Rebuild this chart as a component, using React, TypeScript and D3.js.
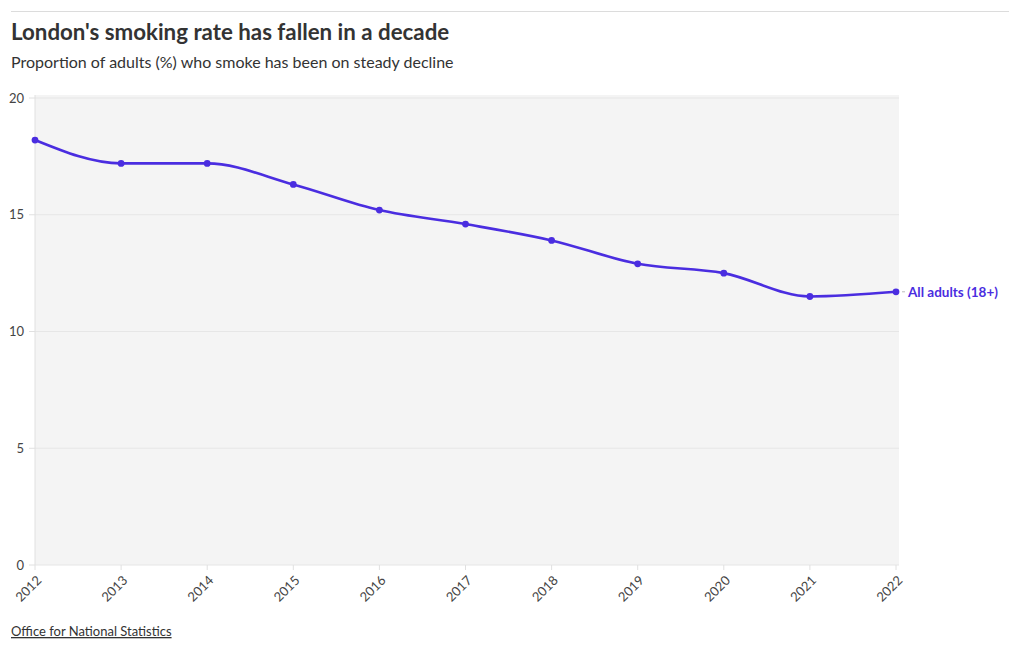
import React from "react";
import * as d3 from "d3";

const years = [2012, 2013, 2014, 2015, 2016, 2017, 2018, 2019, 2020, 2021, 2022];
const smokingRate = [18.2, 17.2, 17.2, 16.3, 15.2, 14.6, 13.9, 12.9, 12.5, 11.5, 11.7];
const yTicks = [0, 5, 10, 15, 20];
const seriesName = "All adults (18+)";
const title = "London's smoking rate has fallen in a decade";
const subtitle = "Proportion of adults (%) who smoke has been on steady decline";
const source = "Office for National Statistics";

const FONT = "Lato, 'Open Sans', sans-serif";
const LINE = "#4a2de0";

export default function App() {
  const W = 1020, H = 650;
  const left = 35, right = 896, top = 98, bottom = 565;
  const x = d3.scaleLinear().domain([2012, 2022]).range([left, right]);
  const y = d3.scaleLinear().domain([0, 20]).range([bottom, top]);
  const data = years.map((yr, i) => ({ yr, v: smokingRate[i] }));
  const line = d3.line<{ yr: number; v: number }>()
    .x(d => x(d.yr)).y(d => y(d.v)).curve(d3.curveMonotoneX);
  const last = data[data.length - 1];

  return (
    <svg width={W} height={H} style={{ position: "absolute", left: 0, top: 0, fontFamily: FONT }}>
      <line x1={11} x2={1009} y1={11.5} y2={11.5} stroke="#dcdcdc" />
      <text x={11} y={40} fontSize={22.3} fontWeight={700} fill="#333">{title}</text>
      <text x={11} y={68} fontSize={16} fill="#333">{subtitle}</text>

      <rect x={left} y={top - 3} width={right - left + 3} height={bottom - top + 3} fill="#f4f4f4" />
      {yTicks.map(t => (
        <g key={t}>
          <line x1={left} x2={right + 3} y1={y(t)} y2={y(t)} stroke="#e6e6e6" />
          <line x1={29} x2={left} y1={y(t)} y2={y(t)} stroke="#e0e0e0" />
          <text x={24} y={y(t)} dy="0.35em" textAnchor="end" fontSize={13} fill="#444">{t}</text>
        </g>
      ))}
      <line x1={left} x2={left} y1={top - 3} y2={bottom} stroke="#e0e0e0" />
      {years.map(yr => (
        <g key={yr}>
          <line x1={x(yr)} x2={x(yr)} y1={bottom} y2={bottom + 5} stroke="#e0e0e0" />
          <text transform={`translate(${x(yr) + 4},${bottom + 13}) rotate(-45)`} textAnchor="end" dy="0.35em" fontSize={13} fill="#444">{yr}</text>
        </g>
      ))}

      <path d={line(data) || ""} fill="none" stroke={LINE} strokeWidth={2.6} />
      {data.map(d => (
        <circle key={d.yr} cx={x(d.yr)} cy={y(d.v)} r={3.4} fill={LINE} />
      ))}
      <line x1={x(last.yr) + 6} x2={x(last.yr) + 9} y1={y(last.v)} y2={y(last.v)} stroke="#bbb" />
      <text x={x(last.yr) + 12} y={y(last.v)} dy="0.35em" fontSize={13.5} fontWeight={700} fill={LINE}>{seriesName}</text>

      <text x={11} y={636} fontSize={13} fill="#333" textDecoration="underline">{source}</text>
    </svg>
  );
}
